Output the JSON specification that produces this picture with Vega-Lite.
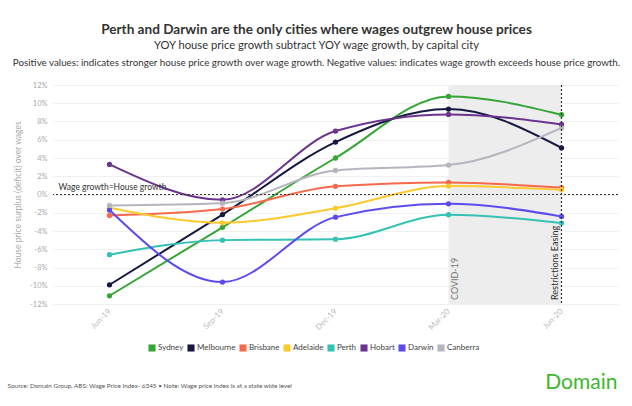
{
  "$schema": "https://vega.github.io/schema/vega-lite/v6.json",
  "width": 565,
  "height": 219,
  "autosize": {"type": "none"},
  "padding": {"left": 53, "top": 85, "right": 14, "bottom": 102},
  "background": "white",
  "config": {
    "font": "Lato",
    "view": {"stroke": null},
    "axisY": {"labelOverlap": false, "labelBound": false, "labelFlush": false}
  },
  "title": {
    "text": "Perth and Darwin are the only cities where wages outgrew house prices",
    "subtitle": "YOY house price growth subtract YOY wage growth, by capital city",
    "anchor": "middle",
    "frame": "group",
    "dx": -19,
    "fontSize": 13.6,
    "fontWeight": "bold",
    "color": "#333333",
    "subtitleFontSize": 11.2,
    "subtitleColor": "#333333",
    "subtitlePadding": 3,
    "offset": 7
  },
  "layer": [
    {
      "data": {"values": [{"band": "covid"}]},
      "mark": {"type": "rect", "color": "#ededed"},
      "encoding": {
        "x": {"datum": "Mar-20", "type": "ordinal"},
        "x2": {"datum": "Jun-20"}
      }
    },
    {
      "data": {
        "values": [
          {"city": "Sydney", "quarter": "Jun-19", "value": -11.1},
          {"city": "Sydney", "quarter": "Sep-19", "value": -3.6},
          {"city": "Sydney", "quarter": "Dec-19", "value": 4.0},
          {"city": "Sydney", "quarter": "Mar-20", "value": 10.75},
          {"city": "Sydney", "quarter": "Jun-20", "value": 8.74},
          {"city": "Melbourne", "quarter": "Jun-19", "value": -9.9},
          {"city": "Melbourne", "quarter": "Sep-19", "value": -2.2},
          {"city": "Melbourne", "quarter": "Dec-19", "value": 5.74},
          {"city": "Melbourne", "quarter": "Mar-20", "value": 9.36},
          {"city": "Melbourne", "quarter": "Jun-20", "value": 5.12},
          {"city": "Brisbane", "quarter": "Jun-19", "value": -2.3},
          {"city": "Brisbane", "quarter": "Sep-19", "value": -1.6},
          {"city": "Brisbane", "quarter": "Dec-19", "value": 0.9},
          {"city": "Brisbane", "quarter": "Mar-20", "value": 1.32},
          {"city": "Brisbane", "quarter": "Jun-20", "value": 0.74},
          {"city": "Adelaide", "quarter": "Jun-19", "value": -1.45},
          {"city": "Adelaide", "quarter": "Sep-19", "value": -3.1},
          {"city": "Adelaide", "quarter": "Dec-19", "value": -1.5},
          {"city": "Adelaide", "quarter": "Mar-20", "value": 0.92},
          {"city": "Adelaide", "quarter": "Jun-20", "value": 0.52},
          {"city": "Perth", "quarter": "Jun-19", "value": -6.6},
          {"city": "Perth", "quarter": "Sep-19", "value": -5.0},
          {"city": "Perth", "quarter": "Dec-19", "value": -4.9},
          {"city": "Perth", "quarter": "Mar-20", "value": -2.22},
          {"city": "Perth", "quarter": "Jun-20", "value": -3.13},
          {"city": "Hobart", "quarter": "Jun-19", "value": 3.3},
          {"city": "Hobart", "quarter": "Sep-19", "value": -0.58},
          {"city": "Hobart", "quarter": "Dec-19", "value": 6.95},
          {"city": "Hobart", "quarter": "Mar-20", "value": 8.78},
          {"city": "Hobart", "quarter": "Jun-20", "value": 7.68},
          {"city": "Darwin", "quarter": "Jun-19", "value": -1.7},
          {"city": "Darwin", "quarter": "Sep-19", "value": -9.6},
          {"city": "Darwin", "quarter": "Dec-19", "value": -2.48},
          {"city": "Darwin", "quarter": "Mar-20", "value": -1.02},
          {"city": "Darwin", "quarter": "Jun-20", "value": -2.4},
          {"city": "Canberra", "quarter": "Jun-19", "value": -1.2},
          {"city": "Canberra", "quarter": "Sep-19", "value": -0.95},
          {"city": "Canberra", "quarter": "Dec-19", "value": 2.64},
          {"city": "Canberra", "quarter": "Mar-20", "value": 3.22},
          {"city": "Canberra", "quarter": "Jun-20", "value": 7.3}
        ]
      },
      "mark": {"type": "line", "interpolate": "monotone", "strokeWidth": 2, "point": {"filled": true, "size": 28}},
      "encoding": {
        "x": {
          "field": "quarter",
          "type": "ordinal",
          "sort": ["Jun-19", "Sep-19", "Dec-19", "Mar-20", "Jun-20"],
          "scale": {"type": "point", "domain": ["Jun-19", "Sep-19", "Dec-19", "Mar-20", "Jun-20"], "padding": 0.5},
          "axis": {
            "title": null,
            "labelAngle": -45,
            "labelColor": "#bbbbbb",
            "labelFontSize": 8,
            "labelPadding": 6,
            "domain": false,
            "ticks": false,
            "grid": false
          }
        },
        "y": {
          "field": "value",
          "type": "quantitative",
          "scale": {"domain": [-12, 12], "nice": false},
          "axis": {
            "title": "House price surplus (deficit) over wages",
            "titleColor": "#aaaaaa",
            "titleFontSize": 8.5,
            "titleFontWeight": "normal",
            "titlePadding": 7,
            "values": [-12, -10, -8, -6, -4, -2, 0, 2, 4, 6, 8, 10, 12],
            "tickCount": 13,
            "labelExpr": "datum.value + '%'",
            "labelColor": "#aaaaaa",
            "labelFontSize": 7.5,
            "labelPadding": 6,
            "labelOverlap": false,
            "domain": false,
            "ticks": false,
            "gridColor": "#f0f0f0",
            "zindex": 0
          }
        },
        "color": {
          "field": "city",
          "type": "nominal",
          "scale": {
            "domain": ["Sydney", "Melbourne", "Brisbane", "Adelaide", "Perth", "Hobart", "Darwin", "Canberra"],
            "range": ["#35a535", "#16183f", "#f7694b", "#fcc92f", "#33c2b4", "#6b348f", "#5c4cef", "#b5b5c0"]
          },
          "legend": {
            "title": null,
            "orient": "none",
            "direction": "horizontal",
            "legendX": 95,
            "legendY": 259,
            "symbolType": "square",
            "symbolSize": 50,
            "symbolStrokeWidth": 0,
            "labelFontSize": 8,
            "labelColor": "#444444",
            "columnPadding": 3,
            "labelOffset": 2
          }
        }
      }
    },
    {
      "data": {"values": [{"v": 0}]},
      "mark": {"type": "rule", "color": "#333333", "strokeDash": [2, 2], "strokeWidth": 1.2},
      "encoding": {"y": {"datum": 0}}
    },
    {
      "data": {"values": [{"v": 0}]},
      "mark": {"type": "rule", "color": "#333333", "strokeDash": [2, 2], "strokeWidth": 1.2},
      "encoding": {"x": {"datum": "Jun-20", "type": "ordinal"}}
    },
    {
      "data": {"values": [{"label": "Positive values: indicates stronger house price growth over wage growth. Negative values: indicates wage growth exceeds house price growth."}]},
      "mark": {"type": "text", "align": "center", "baseline": "middle", "dx": -19, "dy": -22, "fontSize": 9.8, "color": "#333333"},
      "encoding": {"x": {"datum": "Dec-19", "type": "ordinal"}, "y": {"datum": 12}, "text": {"field": "label"}}
    },
    {
      "data": {"values": [{"label": "Wage growth=House growth"}]},
      "mark": {"type": "text", "align": "left", "baseline": "bottom", "dx": -51, "dy": -3, "fontSize": 8.5, "color": "#333333"},
      "encoding": {"x": {"datum": "Jun-19", "type": "ordinal"}, "y": {"datum": 0}, "text": {"field": "label"}}
    },
    {
      "data": {"values": [{"label": "COVID-19"}]},
      "mark": {"type": "text", "angle": 270, "align": "left", "baseline": "top", "dx": 4, "dy": 2, "fontSize": 9, "color": "#777777"},
      "encoding": {"x": {"datum": "Mar-20", "type": "ordinal"}, "y": {"datum": -12}, "text": {"field": "label"}}
    },
    {
      "data": {"values": [{"label": "Restrictions Easing"}]},
      "mark": {"type": "text", "angle": 270, "align": "left", "baseline": "bottom", "dx": 4, "dy": -2, "fontSize": 9, "color": "#333333"},
      "encoding": {"x": {"datum": "Jun-20", "type": "ordinal"}, "y": {"datum": -12}, "text": {"field": "label"}}
    },
    {
      "data": {"values": [{"label": "Source: Domain Group, ABS: Wage Price Index- 6345 • Note: Wage price index is at a state wide level"}]},
      "mark": {"type": "text", "align": "left", "baseline": "middle", "dx": -102, "dy": 82, "fontSize": 6.4, "color": "#555555"},
      "encoding": {"x": {"datum": "Jun-19", "type": "ordinal"}, "y": {"datum": -12}, "text": {"field": "label"}}
    },
    {
      "data": {"values": [{"label": "Domain"}]},
      "mark": {"type": "text", "align": "right", "baseline": "middle", "dx": 56, "dy": 79, "fontSize": 21, "color": "#3cb72f"},
      "encoding": {"x": {"datum": "Jun-20", "type": "ordinal"}, "y": {"datum": -12}, "text": {"field": "label"}}
    }
  ]
}
